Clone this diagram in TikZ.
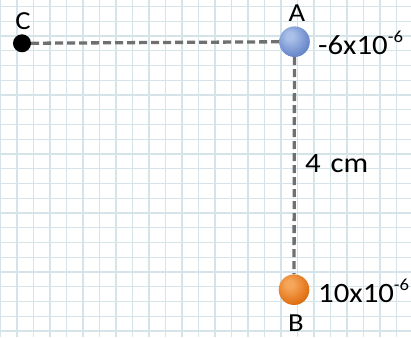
\documentclass[tikz,border=0pt]{standalone}
\usepackage{fontspec}
\setmainfont[FakeStretch=1.1]{Carlito}
\definecolor{gridc}{RGB}{212,228,232}
\definecolor{dashc}{RGB}{112,112,112}
\definecolor{Ahi}{RGB}{170,192,232}
\definecolor{Amid}{RGB}{108,138,204}
\definecolor{Aedge}{RGB}{66,96,166}
\definecolor{Bhi}{RGB}{246,166,90}
\definecolor{Bmid}{RGB}{226,116,24}
\definecolor{Bedge}{RGB}{166,74,6}
\pgfdeclareradialshading{ballA}{\pgfpoint{-8bp}{10bp}}{color(0bp)=(Ahi); color(6bp)=(Ahi); color(28bp)=(Amid); color(52bp)=(Aedge); color(80bp)=(Aedge)}
\pgfdeclareradialshading{ballB}{\pgfpoint{-8bp}{10bp}}{color(0bp)=(Bhi); color(6bp)=(Bhi); color(28bp)=(Bmid); color(52bp)=(Bedge); color(80bp)=(Bedge)}
\newcommand{\sci}[2]{#1x10\raisebox{12pt}{\fontsize{17}{17}\selectfont #2}}
\begin{document}
\begin{tikzpicture}[x=1pt,y=1pt,
  dashline/.style={draw=dashc,line width=3.3pt,dash pattern=on 8pt off 4pt},
  charge/.style={circle,inner sep=0pt,minimum size=30.6pt},
  lbl/.style={font=\fontsize{26}{26}\selectfont,inner sep=0pt},
  val/.style={font=\fontsize{28}{28}\selectfont,inner sep=0pt,anchor=base west}]
\fill[white] (0,0) rectangle (411,337);
\useasboundingbox (0,0) rectangle (411,337);
\foreach \k in {0,...,24} \draw[gridc,line width=1.3pt] (0.5+16.5*\k,0) -- (0.5+16.5*\k,337);
\foreach \k in {0,...,22} \draw[gridc,line width=1.3pt] (0,330.5-14.75*\k) -- (411,330.5-14.75*\k);
\node[charge,shading=ballA] (A) at (294.5,295.3) {};
\node[charge,shading=ballB] (B) at (294,47.3) {};
\node[circle,fill=black,inner sep=0pt,minimum size=18pt] (C) at (22,293.7) {};
\draw[dashline] (C) -- (A);
\draw[dashline] (A) -- (B);
\node[lbl] (Cl) at (23,316) {C};
\node[lbl] (Al) at (297,323.7) {A};
\node[lbl] (Bl) at (296,13.5) {B};
\node[val] (qA) at (318,282) {\sci{-6}{-6}};
\node[val] (qB) at (318,35) {\sci{10}{-6}};
\node[val] (d) at (305,164) {4\hspace{0.35em}cm};
\end{tikzpicture}
\end{document}
